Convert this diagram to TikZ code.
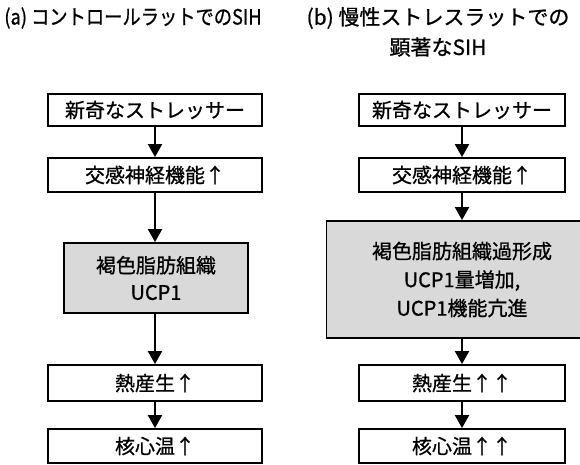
\documentclass[tikz,border=0pt]{standalone}
\usepackage{fontspec}
\setmainfont{Noto Sans CJK JP}[FakeBold=0.8]
\usetikzlibrary{arrows.meta}
\begin{document}
\begin{tikzpicture}[x=1pt,y=-1pt,
  stepbox/.style={draw=black, line width=1.9pt, fill=white, inner sep=0pt,
    align=center, font=\fontsize{20}{27}\selectfont},
  graybox/.style={stepbox, fill=black!15},
  titletext/.style={inner sep=0pt, align=center, font=\fontsize{21}{30}\selectfont},
  arr/.style={line width=2.2pt, -{Triangle[width=14pt,length=13pt]}}]
\useasboundingbox (0,0) rectangle (580,464);
\clip (0,0) rectangle (580,464);
\fill[white] (0,0) rectangle (580,464);
% titles
\node[titletext, xscale=0.87] (ta) at (133,18) {(a) コントロールラットでのSIH};
\node[titletext] (tb1) at (438,18) {(b) 慢性ストレスラットでの};
\node[titletext] (tb2) at (438,47) {顕著なSIH};
% left column
\node[stepbox, minimum width=214pt, minimum height=32pt] (L1) at (155,110) {新奇なストレッサー};
\node[stepbox, minimum width=214pt, minimum height=34pt] (L2) at (155,175) {交感神経機能↑};
\node[graybox, minimum width=184pt, minimum height=70pt] (L3) at (156,278) {褐色脂肪組織\\UCP1};
\node[stepbox, minimum width=214pt, minimum height=36pt] (L4) at (155,383) {熱産生↑};
\node[stepbox, minimum width=214pt, minimum height=34pt] (L5) at (155,446) {核心温↑};
% right column
\node[stepbox, minimum width=206pt, minimum height=32pt] (R1) at (462,110) {新奇なストレッサー};
\node[stepbox, minimum width=206pt, minimum height=34pt] (R2) at (462,175) {交感神経機能↑};
\node[graybox, minimum width=271pt, minimum height=117pt,
  font=\fontsize{20}{28.5}\selectfont] (R3) at (462,279.5) {褐色脂肪組織過形成\\UCP1量増加,\\UCP1機能亢進};
\node[stepbox, minimum width=206pt, minimum height=36pt] (R4) at (462,383) {熱産生↑↑};
\node[stepbox, minimum width=206pt, minimum height=34pt] (R5) at (462,446) {核心温↑↑};
% connectors
\draw[arr] (L1.south) -- (L2.north);
\draw[arr] (L2.south) -- (L3.north -| L2.south);
\draw[arr] (L3.south -| L2.south) -- (L4.north);
\draw[arr] (L4.south) -- (L5.north);
\draw[arr] (R1.south) -- (R2.north);
\draw[arr] (R2.south) -- (R3.north);
\draw[arr] (R3.south) -- (R4.north);
\draw[arr] (R4.south) -- (R5.north);
\end{tikzpicture}
\end{document}
